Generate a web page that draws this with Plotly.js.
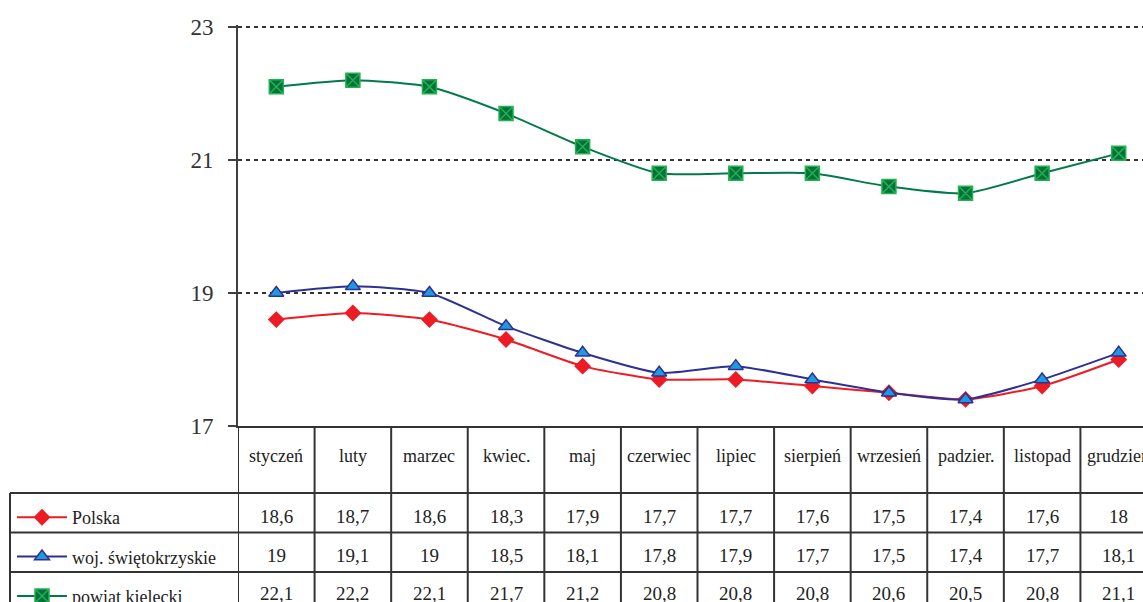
<!DOCTYPE html>
<html>
<head>
<meta charset="utf-8">
<script src="https://cdn.plot.ly/plotly-3.0.1.min.js"></script>
<style>
  html, body { margin: 0; padding: 0; overflow: hidden; background: #fff; }
  #chart { width: 1160px; height: 620px; }
</style>
</head>
<body>
<div id="chart"></div>
<script>
const months = ["styczeń","luty","marzec","kwiec.","maj","czerwiec","lipiec","sierpień","wrzesień","padzier.","listopad","grudzień"];
const seriesNames = ["Polska","woj. świętokrzyskie","powiat kielecki"];
const polska = [18.6,18.7,18.6,18.3,17.9,17.7,17.7,17.6,17.5,17.4,17.6,18];
const woj = [19,19.1,19,18.5,18.1,17.8,17.9,17.7,17.5,17.4,17.7,18.1];
const powiat = [22.1,22.2,22.1,21.7,21.2,20.8,20.8,20.8,20.6,20.5,20.8,21.1];
const yTicks = [17,19,21,23];

const W = 1160, H = 620;
const M = {l: 238, r: 3, t: 25, b: 194};
const PH = H - M.t - M.b, PW = W - M.l - M.r;
const FONT = "Liberation Serif";
const GRID = "#333333";

function py(px) { return (H - M.b - px) / PH; }   // container px -> paper y
function pxX(px) { return (px - M.l) / PW; }      // container px -> paper x

const mk = (name, y, line, marker) => ({
  type: "scatter", mode: "lines+markers", name, x: months, y,
  line: Object.assign({shape: "spline", smoothing: 0.6, width: 2}, line),
  marker, legendgroup: name, cliponaxis: false, hoverinfo: "x+y"
});

const traces = [
  mk(seriesNames[0], polska, {color: "#ED1C24"}, {symbol: "diamond", size: 13, color: "#ED1C24", line: {color: "#ED1C24", width: 0}}),
  mk(seriesNames[1], woj, {color: "#2E3192"}, {symbol: "triangle-up", size: 13, color: "#1E9BE0", line: {color: "#2E3192", width: 1.5}}),
  mk(seriesNames[2], powiat, {color: "#007A4A"}, {symbol: "square-x", size: 14, color: "#00703C", line: {color: "#22B14C", width: 1.5}})
];

const shapes = [];
const annotations = [];
const lineStyle = {color: GRID, width: 2};
const rowLines = [493, 532.5, 572, 611.5];
const bottom = 640;
// vertical column lines through the table
for (let i = 0; i <= months.length; i++) {
  shapes.push({type: "line", xref: "x", yref: "paper", x0: i - 0.5, x1: i - 0.5, y0: 0, y1: py(bottom), line: lineStyle, layer: "above"});
}
// left border of the row-label column
shapes.push({type: "line", xref: "paper", yref: "paper", x0: pxX(10), x1: pxX(10), y0: py(rowLines[0]), y1: py(bottom), line: lineStyle});
// horizontal row lines
rowLines.forEach(r => shapes.push({type: "line", xref: "paper", yref: "paper", x0: pxX(10), x1: 1, y0: py(r), y1: py(r), line: lineStyle}));

// header labels
months.forEach((m, i) => annotations.push({xref: "x", yref: "paper", x: i, y: py(456), text: m, showarrow: false,
  font: {family: FONT, size: 18, color: "#222"}, xanchor: "center", yanchor: "middle"}));
// values
const rows = [polska, woj, powiat];
const rowCenters = [516, 555, 593];
rows.forEach((vals, r) => vals.forEach((v, i) => annotations.push({xref: "x", yref: "paper", x: i, y: py(rowCenters[r]),
  text: String(v).replace(".", ","), showarrow: false, font: {family: FONT, size: 19, color: "#222"}, xanchor: "center", yanchor: "middle"})));

const layout = {
  width: W, height: H, margin: M,
  paper_bgcolor: "#fff", plot_bgcolor: "#fff",
  font: {family: FONT, color: "#222"},
  showlegend: true,
  legend: {xref: "container", yref: "container", x: 12 / W, y: 1 - 499 / H, xanchor: "left", yanchor: "top",
    font: {family: FONT, size: 18, color: "#222"}, tracegroupgap: 13, bgcolor: "rgba(0,0,0,0)", traceorder: "grouped",
    itemwidth: 50},
  xaxis: {type: "category", range: [-0.5, months.length - 0.5], showticklabels: false, ticks: "", showgrid: false,
    zeroline: false, showline: true, linecolor: GRID, linewidth: 2, fixedrange: true},
  yaxis: {range: [17, 23.03], tickvals: yTicks, ticktext: yTicks.map(String), ticks: "outside", ticklen: 8, tickwidth: 2, tickcolor: "#404040",
    showline: true, linecolor: "#404040", linewidth: 2, showgrid: true, gridcolor: GRID, gridwidth: 2.5, griddash: "4px,4px",
    zeroline: false, ticklabelstandoff: 10, tickfont: {family: FONT, size: 23, color: "#333"}, fixedrange: true},
  shapes, annotations
};

Plotly.newPlot("chart", traces, layout, {displayModeBar: false, staticPlot: true});
</script>
</body>
</html>
